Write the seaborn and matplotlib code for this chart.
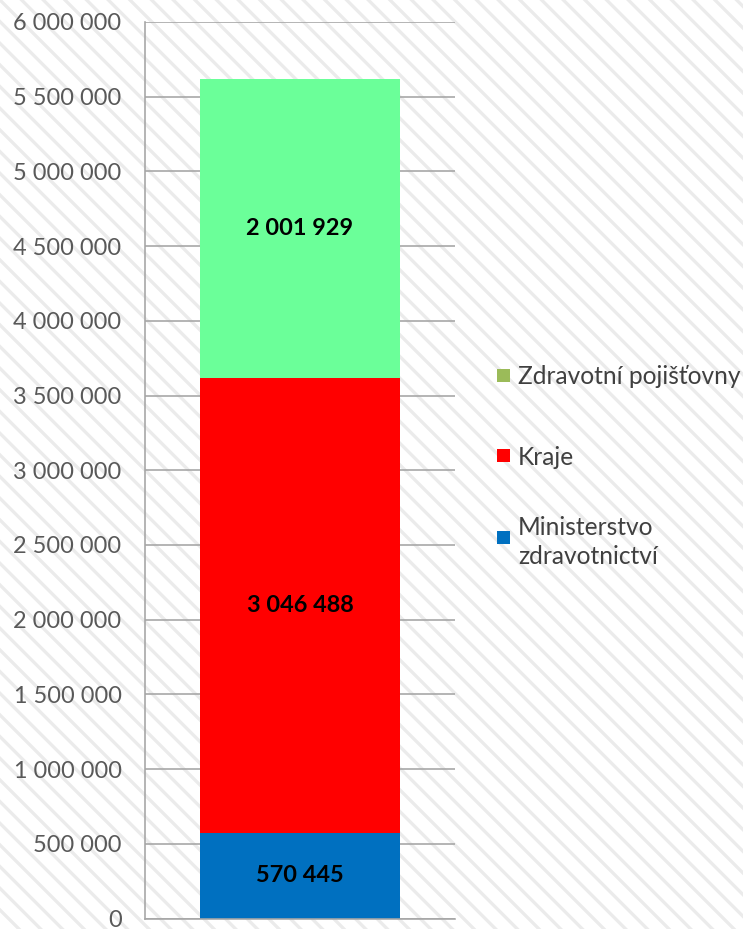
import matplotlib
matplotlib.use("Agg")
import matplotlib.pyplot as plt
import matplotlib.ticker as mticker
from matplotlib.patches import Rectangle
import seaborn as sns
import numpy as np

# DATA
categories = ["Ministerstvo zdravotnictví", "Kraje", "Zdravotní pojišťovny"]
legend_labels = ["Ministerstvo\nzdravotnictví", "Kraje", "Zdravotní pojišťovny"]
values = [570445, 3046488, 2001929]
bar_colors = ["#0070C0", "#FF0000", "#6BFF99"]
legend_colors = ["#0070C0", "#FF0000", "#9BBB59"]
y_ticks = list(range(0, 6000001, 500000))

# CONFIGURATION
sns.set_theme(style="white")
plt.rcParams["font.family"] = ["Lato", "DejaVu Sans"]
plt.rcParams["hatch.linewidth"] = 1.8

DPI = 130
fig = plt.figure(figsize=(743 / DPI, 929 / DPI), dpi=DPI)
fig.patch.set_facecolor("white")
fig.patch.set_edgecolor("#ebebeb")
fig.patch.set_hatch("\\\\")
fig.patch.set_linewidth(0)

ax = fig.add_axes([145 / 743, 1 - 918.5 / 929, 310 / 743, (918.5 - 22) / 929])
ax.set_facecolor("none")

def fmt_space(v, pos=None):
    return f"{int(v):,}".replace(",", " ")

# stacked bar: draw cumulative totals, tallest first
tops = np.cumsum(values)
bottoms = tops - np.array(values)
for i in reversed(range(len(values))):
    sns.barplot(x=[""], y=[tops[i]], color=bar_colors[i], saturation=1,
                width=0.642, linewidth=0, ax=ax, zorder=2)

for v, b in zip(values, bottoms):
    ax.text(0, b + v / 2, fmt_space(v), ha="center", va="center",
            fontsize=13, fontweight="bold", color="black", zorder=3)

ax.set_xlim(-0.5, 0.5)
ax.set_ylim(0, 6000000)
ax.set_yticks(y_ticks)
ax.yaxis.set_major_formatter(mticker.FuncFormatter(fmt_space))
ax.tick_params(axis="y", length=0, pad=13, labelsize=13, labelcolor="#595959")
ax.tick_params(axis="x", length=0, labelbottom=False)
ax.set_xlabel("")
ax.set_ylabel("")
ax.yaxis.grid(True, color="#a6a6a6", linewidth=0.9)
ax.set_axisbelow(True)
for s in ["top", "right"]:
    ax.spines[s].set_visible(False)
for s in ["left", "bottom"]:
    ax.spines[s].set_color("#a6a6a6")
    ax.spines[s].set_linewidth(0.9)

# legend, top entry first
legend_y = [537, 455, 375]
for lab, col, yy in zip(legend_labels, legend_colors, legend_y):
    fy = 1 - yy / 929
    fig.patches.append(Rectangle((497 / 743, fy - 6.5 / 929), 13 / 743, 13 / 929,
                                 transform=fig.transFigure, facecolor=col,
                                 edgecolor="none", zorder=3))
    fig.text(518 / 743, fy, lab, ha="left", va="center_baseline", fontsize=13.6,
             color="#404040", linespacing=1.3)

fig.savefig("out.png", dpi=DPI)
